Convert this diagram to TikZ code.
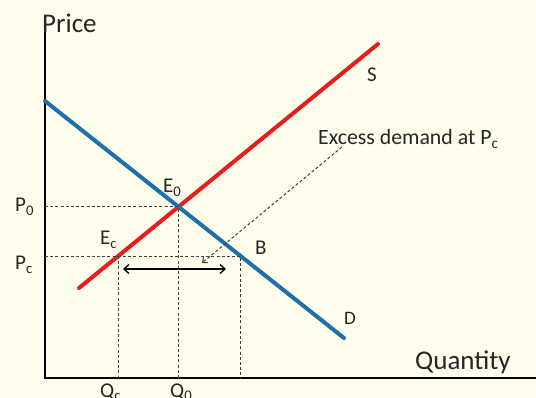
\documentclass[tikz,border=0pt]{standalone}
\usepackage{fontspec}
\setmainfont{Carlito}
\usetikzlibrary{arrows.meta,intersections}
\definecolor{paper}{RGB}{255,253,235}
\definecolor{supred}{RGB}{232,28,30}
\definecolor{demblue}{RGB}{30,112,172}

\begin{document}
\begin{tikzpicture}[x=1pt,y=-1pt,
  lbl/.style={anchor=base west,inner sep=0pt,font=\fontsize{21}{24}\selectfont,text=black!85},
  axtitle/.style={lbl,font=\fontsize{27}{30}\selectfont},
  curve/.style={line width=4pt,line cap=round},
  guide/.style={dash pattern=on 3pt off 2.2pt,line width=1pt,black!75},
  arrow/.style={{Straight Barb[length=5pt,width=9pt]}-{Straight Barb[length=5pt,width=9pt]},line width=1.3pt}]
\fill[paper] (0,0) rectangle (536,398);
\clip (0,0) rectangle (536,398);
% axes
\coordinate (O) at (45,378);
\coordinate (ytop) at (45,28);
\coordinate (xend) at (536,378);
\draw[line width=1.6pt] (ytop) -- (O) -- (xend);
\node[axtitle] (price) at (42,33) {Price};
\node[axtitle] (qty) at (415,370) {Quantity};
% supply and demand
\coordinate (s0) at (79,288); \coordinate (s1) at (378,44);
\coordinate (d0) at (45,101); \coordinate (d1) at (344,338);
\draw[curve,supred,name path=supply] (s0) -- (s1);
\draw[curve,demblue,name path=demand] (d0) -- (d1);
\path[name path=pcline] (45,256) -- (400,256);
\path[name intersections={of=supply and demand,by=E0}];
\path[name intersections={of=supply and pcline,by=Ec}];
\path[name intersections={of=demand and pcline,by=B}];
% guide lines
\draw[guide] (E0 -| O) -- (E0) -- (E0 |- O);
\draw[guide] (B -| O) -- (B) -- (B |- O);
\draw[guide] (Ec) -- (Ec |- O);
% excess demand
\coordinate (xa) at (123,269); \coordinate (xb) at (226,269);
\draw[arrow] (xa) -- (xb);
\coordinate (note) at (342,147); \coordinate (tip) at (202,263);
\draw[guide,-{Straight Barb[length=4pt,width=7pt]}] (note) -- (tip);
% labels
\node[lbl] (lS) at (367,82) {S};
\node[lbl,font=\fontsize{19}{22}\selectfont] (lD) at (344,325) {D};
\node[lbl,font=\fontsize{21.8}{24}\selectfont] (lnote) at (318,145) {Excess demand at P\textsubscript{c}};
\node[lbl] (lP0) at (15,212) {P\textsubscript{0}};
\node[lbl] (lPc) at (15,270) {P\textsubscript{c}};
\node[lbl] (lE0) at (163,193) {E\textsubscript{0}};
\node[lbl] (lEc) at (100,245) {E\textsubscript{c}};
\node[lbl] (lB) at (255,255) {B};
\node[lbl] (lQc) at (100,397) {Q\textsubscript{c}};
\node[lbl] (lQ0) at (170,397) {Q\textsubscript{0}};
\end{tikzpicture}
\end{document}
